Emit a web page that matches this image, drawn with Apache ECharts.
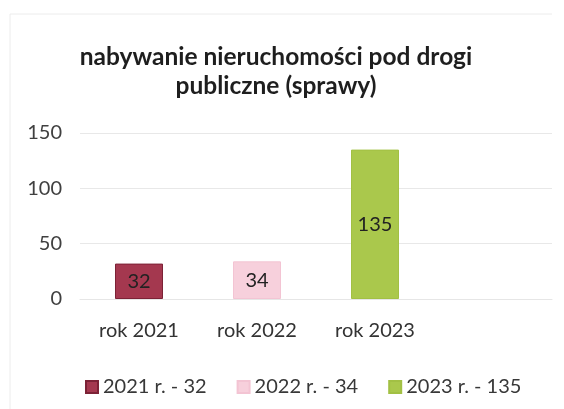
<!DOCTYPE html>
<html>
<head>
<meta charset="utf-8">
<script src="https://cdn.jsdelivr.net/npm/echarts@6/dist/echarts.min.js"></script>
<style>
  html, body { margin: 0; padding: 0; background: #ffffff; }
  #chart { width: 564px; height: 409px; }
</style>
</head>
<body>
<div id="chart"></div>
<script>
// Cases of acquiring real estate for public roads, by year
const categories = ['rok 2021', 'rok 2022', 'rok 2023', ''];
const seriesNames = ['2021 r. - 32', '2022 r. - 34', '2023 r. - 135'];
const values2021 = [32, '-', '-', '-'];
const values2022 = ['-', 34, '-', '-'];
const values2023 = ['-', '-', 135, '-'];
const yTicks = [0, 50, 100, 150];

const FONT = 'Lato';
const colors = ['#a4384f', '#f7d0dc', '#aac84c'];
const borders = ['#7c2236', '#f3c4d3', '#a2c044'];
const seriesValues = [values2021, values2022, values2023];

const chart = echarts.init(document.getElementById('chart'));

chart.setOption({
  animation: false,
  textStyle: { fontFamily: FONT },
  title: {
    text: 'nabywanie nieruchomości pod drogi\npubliczne (sprawy)',
    left: 271,
    textAlign: 'center',
    top: 38,
    textStyle: {
      fontFamily: FONT,
      fontSize: 24.5,
      fontWeight: 'bold',
      color: '#1e1e1e',
      lineHeight: 29
    }
  },
  graphic: [
    // light frame of the chart area
    { type: 'line', shape: { x1: 10, y1: 14, x2: 552, y2: 14 }, style: { stroke: '#ececec', lineWidth: 1 } },
    { type: 'line', shape: { x1: 10, y1: 14, x2: 10, y2: 409 }, style: { stroke: '#ececec', lineWidth: 1 } }
  ],
  legend: {
    data: seriesNames,
    left: 80,
    top: 372,
    itemWidth: 12,
    itemHeight: 12,
    itemGap: 30,
    icon: 'rect',
    textStyle: { fontFamily: FONT, fontSize: 20, color: '#383838' }
  },
  grid: { left: 80, right: 12, top: 133, bottom: 110, containLabel: false },
  xAxis: {
    type: 'category',
    data: categories,
    axisLine: { show: true, lineStyle: { color: '#e6e6e6' } },
    axisTick: { show: false },
    axisLabel: { fontFamily: FONT, fontSize: 20, color: '#333333', margin: 22 }
  },
  yAxis: {
    type: 'value',
    min: yTicks[0],
    max: yTicks[yTicks.length - 1],
    interval: 50,
    axisLine: { show: false },
    axisTick: { show: false },
    splitLine: { lineStyle: { color: '#e8e8e8', width: 1 } },
    axisLabel: { fontFamily: FONT, fontSize: 20, color: '#404040', margin: 18 }
  },
  series: seriesNames.map((name, i) => ({
    name: name,
    type: 'bar',
    stack: 'total',
    barWidth: 48,
    data: seriesValues[i],
    itemStyle: { color: colors[i], borderColor: borders[i], borderWidth: 1 },
    label: {
      show: true,
      position: 'inside',
      fontFamily: FONT,
      fontSize: 20,
      color: '#222222'
    }
  }))
});
</script>
</body>
</html>
